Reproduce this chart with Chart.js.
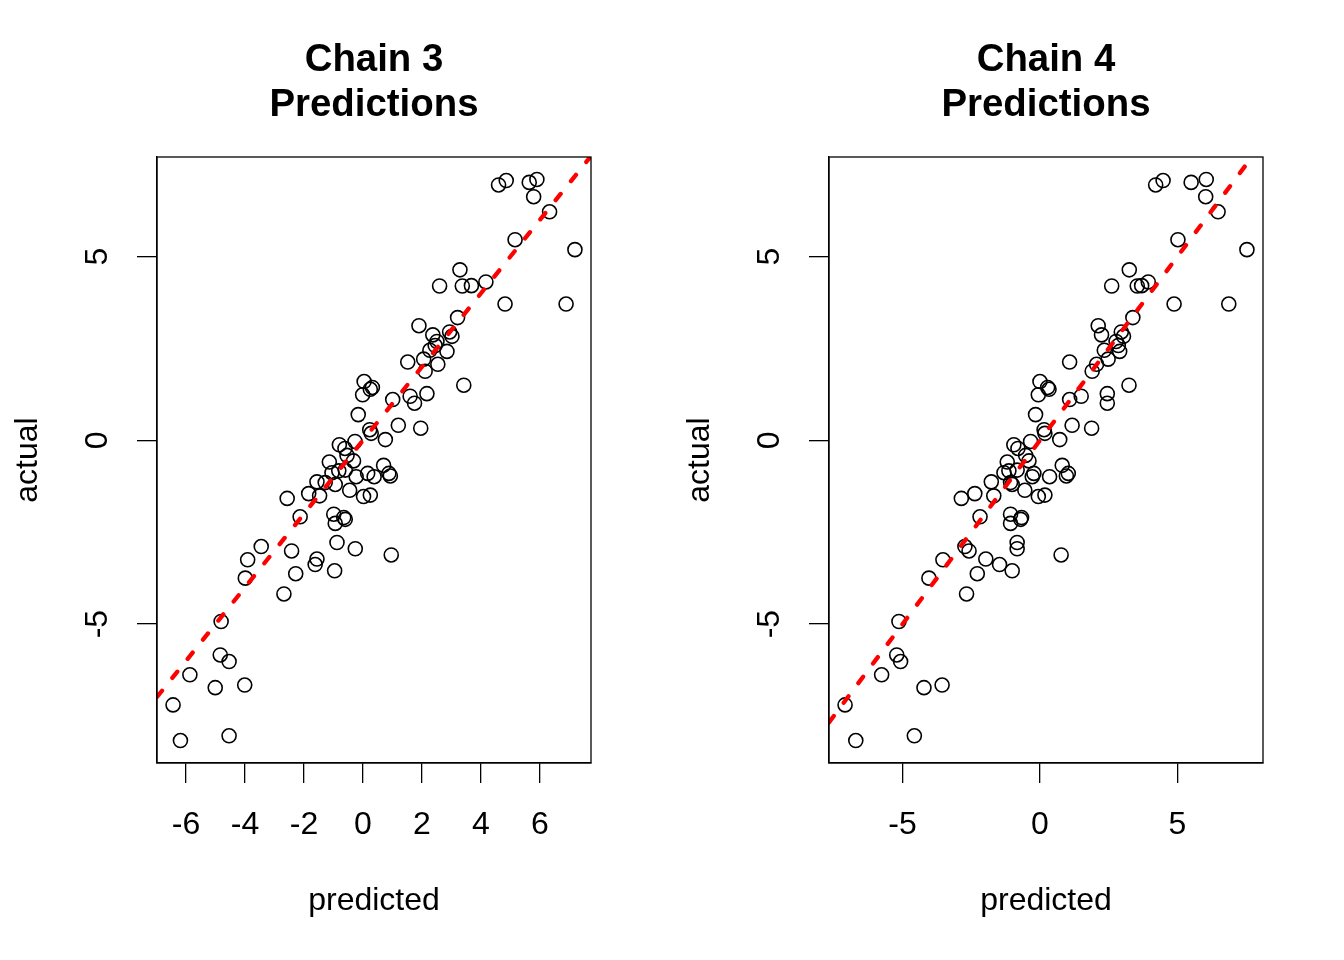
<!DOCTYPE html>
<html>
<head>
<meta charset="utf-8">
<title>Chain 3 / Chain 4 Predictions</title>
<script src="https://cdn.jsdelivr.net/npm/chart.js@4"></script>
<style>
  html, body { margin: 0; padding: 0; background: #fff; }
  #wrap { display: flex; width: 1344px; height: 960px; }
  canvas { display: block; }
</style>
</head>
<body>
<div id="wrap">
  <canvas id="chain3" width="672" height="960"></canvas>
  <canvas id="chain4" width="672" height="960"></canvas>
</div>
<script>
const actual = [
  6.95, 7.07, 7.02, 7.10, 6.63, 6.22, 5.46, 5.19, 4.64, 4.20,
  4.20, 4.21, 4.31, 3.71, 3.71, 3.34, 3.12, 2.87, 2.95, 2.83,
  2.69, 2.58, 2.42, 2.13, 2.21, 2.07, 1.88, 2.45, 1.50, 1.60,
  1.44, 1.39, 1.24, 1.11, 1.20, 1.01, 1.27, 0.70, 0.41, 0.33,
  0.29, 0.19, -0.03, 0.02, -0.12, -0.22, -0.41, -0.59, -0.56, -0.68,
  -0.88, -0.83, -0.81, -0.99, -0.90, -0.99, -0.97, -0.90, -1.13, -1.15,
  -1.20, -1.36, -1.45, -1.51, -1.58, -1.53, -1.49, -2.08, -2.01, -2.10,
  -2.26, -2.15, -2.89, -3.01, -2.78, -2.95, -3.12, -3.25, -3.23, -3.38,
  -3.75, -3.63, -3.55, -4.18, -4.93, -5.84, -6.02, -6.38, -6.73, -6.66,
  -7.20, -8.17, -8.04
];
const predChain3 = [
  4.60, 4.86, 5.64, 5.90, 5.79, 6.33, 5.16, 7.19, 3.29, 2.60,
  3.37, 3.68, 4.17, 4.82, 6.89, 3.21, 1.90, 2.37, 2.94, 3.02,
  2.51, 2.45, 2.85, 1.52, 2.06, 2.54, 2.11, 2.27, 3.42, 0.04,
  0.32, 0.25, -0.01, 1.01, 1.60, 1.75, 2.17, -0.16, 1.20, 1.96,
  0.23, 0.28, -0.27, 0.76, -0.80, -0.61, -0.54, -1.14, -0.32, 0.70,
  -1.05, -0.82, -0.60, -0.23, 0.16, 0.38, 0.93, 0.88, -1.56, -1.28,
  -0.94, -0.45, -1.84, -1.47, -2.57, 0.02, 0.25, -2.13, -0.99, -0.65,
  -0.94, -0.60, -3.45, -2.42, -0.88, -0.26, 0.96, -3.91, -1.56, -1.62,
  -3.99, -2.28, -0.96, -2.68, -4.81, -4.84, -4.54, -5.87, -5.01, -4.01,
  -6.44, -6.19, -4.54
];
const predChain4 = [
  4.21, 4.48, 5.50, 6.05, 6.03, 6.48, 5.02, 7.53, 3.25, 2.61,
  3.54, 3.70, 3.94, 4.88, 6.87, 3.38, 2.12, 2.24, 2.96, 3.04,
  2.77, 2.85, 2.90, 1.08, 2.48, 2.06, 1.90, 2.34, 3.24, 0.00,
  0.28, 0.33, -0.06, 1.08, 1.50, 2.45, 2.45, -0.16, 1.17, 1.88,
  0.15, 0.18, -0.34, 0.72, -0.95, -0.80, -0.52, -1.19, -0.40, 0.81,
  -1.31, -1.13, -0.83, -0.28, -0.22, 0.35, 0.96, 1.03, -1.77, -1.07,
  -1.01, -0.55, -2.37, -1.68, -2.86, -0.06, 0.18, -2.18, -1.07, -0.67,
  -1.07, -0.70, -2.73, -2.58, -0.83, -0.83, 0.77, -3.53, -1.97, -1.47,
  -4.04, -2.28, -1.01, -2.67, -5.13, -5.21, -5.07, -5.76, -4.22, -3.56,
  -7.09, -6.70, -4.57
];
const xTicksChain3 = [-6, -4, -2, 0, 2, 4, 6];
const xTicksChain4 = [-5, 0, 5];
const yTicks = [-5, 0, 5];

const FONT = "'Liberation Sans', Arial, Helvetica, sans-serif";

// R style axis limits: data range widened by 4% on each side
function paddedRange(values) {
  const lo = Math.min(...values);
  const hi = Math.max(...values);
  const pad = (hi - lo) * 0.04;
  return [lo - pad, hi + pad];
}

const boxAndTitle = {
  id: "boxAndTitle",
  afterDraw(chart, args, opts) {
    const { ctx, chartArea: a } = chart;
    ctx.save();
    ctx.strokeStyle = "#000";
    ctx.lineWidth = 1.3;
    ctx.strokeRect(a.left, a.top, a.right - a.left, a.bottom - a.top);
    ctx.fillStyle = "#000";
    ctx.font = "bold 38.4px " + FONT;
    ctx.textAlign = "center";
    ctx.textBaseline = "alphabetic";
    const cx = (a.left + a.right) / 2;
    opts.lines.forEach((t, i) => ctx.fillText(t, cx, 71 + i * 45));
    ctx.restore();
  },
};

function makeChart(id, title, predicted, xTicks) {
  const [xMin, xMax] = paddedRange(predicted);
  const [yMin, yMax] = paddedRange(actual);
  const points = predicted.map((p, i) => ({ x: p, y: actual[i] }));
  const identity = [xMin, xMax].map((v) => ({ x: v, y: v }));

  const tickFont = { family: FONT, size: 32, lineHeight: 1.2 };
  const gridOpts = { drawOnChartArea: false, drawTicks: true, tickLength: 20, color: "#000", lineWidth: 1.3 };

  new Chart(document.getElementById(id), {
    type: "scatter",
    data: {
      datasets: [
        {
          data: points,
          order: 1,
          pointRadius: 7,
          pointHoverRadius: 7,
          pointBorderWidth: 1.6,
          pointBorderColor: "#000",
          pointBackgroundColor: "rgba(0,0,0,0)",
        },
        {
          data: identity,
          order: 0,
          showLine: true,
          pointRadius: 0,
          borderColor: "#ff0000",
          borderWidth: 4.3,
          borderDash: [8, 16.5],
          borderCapStyle: "round",
          clip: 0,
        },
      ],
    },
    options: {
      responsive: false,
      animation: false,
      events: [],
      layout: { padding: { left: 0, right: 81, top: 157, bottom: 0 } },
      plugins: {
        legend: { display: false },
        tooltip: { enabled: false },
        boxAndTitle: { lines: [title, "Predictions"] },
      },
      scales: {
        x: {
          type: "linear",
          min: xMin,
          max: xMax,
          afterBuildTicks: (s) => { s.ticks = xTicks.map((v) => ({ value: v })); },
          afterFit: (s) => { s.height = 197; },
          grid: gridOpts,
          border: { color: "#000", width: 1.3 },
          ticks: {
            font: tickFont,
            color: "#000",
            padding: 23,
            maxRotation: 0,
            autoSkip: false,
            callback: (v) => String(v),
          },
          title: {
            display: true,
            text: "predicted",
            color: "#000",
            font: tickFont,
            padding: { top: 0, bottom: 40 },
          },
        },
        y: {
          type: "linear",
          min: yMin,
          max: yMax,
          afterBuildTicks: (s) => { s.ticks = yTicks.map((v) => ({ value: v })); },
          afterFit: (s) => { s.width = 157; },
          grid: gridOpts,
          border: { color: "#000", width: 1.3 },
          ticks: {
            font: tickFont,
            color: "#000",
            padding: 25,
            minRotation: 90,
            maxRotation: 90,
            crossAlign: "center",
            autoSkip: false,
            callback: (v) => String(v),
          },
          title: {
            display: true,
            text: "actual",
            color: "#000",
            font: tickFont,
            padding: { top: 9, bottom: 0 },
          },
        },
      },
    },
    plugins: [boxAndTitle],
  });
}

makeChart("chain3", "Chain 3", predChain3, xTicksChain3);
makeChart("chain4", "Chain 4", predChain4, xTicksChain4);
</script>
</body>
</html>
